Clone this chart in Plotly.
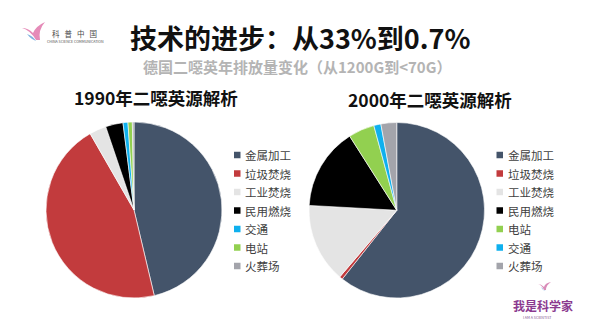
import plotly.graph_objects as go

# ---- data ----
labels_1990 = ["金属加工", "垃圾焚烧", "工业焚烧", "民用燃烧", "交通", "电站", "火葬场"]
values_1990 = [46.3, 45.4, 3.1, 3.2, 0.9, 0.8, 0.3]

labels_2000 = ["金属加工", "垃圾焚烧", "工业焚烧", "民用燃烧", "电站", "交通", "火葬场"]
values_2000 = [60.6, 0.6, 14.6, 15.1, 4.8, 1.3, 2.9]

color_map = {
    "金属加工": "#44546a",
    "垃圾焚烧": "#c23b3d",
    "工业焚烧": "#e4e4e4",
    "民用燃烧": "#000000",
    "交通": "#0fb0ee",
    "电站": "#92d050",
    "火葬场": "#a3a4ab",
}

title_text = "技术的进步：从33%到0.7%"
subtitle_text = "德国二噁英年排放量变化（从1200G到<70G）"
pie_titles = ["1990年二噁英源解析", "2000年二噁英源解析"]

FONT = "Noto Sans CJK SC"
W, H = 600, 335


def px(x):
    return x / W


def py(y):
    return 1 - y / H


fig = go.Figure()

fig.add_trace(go.Pie(
    labels=labels_1990, values=values_1990,
    marker=dict(colors=[color_map[l] for l in labels_1990],
                line=dict(color="white", width=0.6)),
    sort=False, direction="clockwise", rotation=0,
    textinfo="none", hoverinfo="label+percent",
    domain=dict(x=[46 / W, 222 / W], y=[37 / H, 213 / H]),
    showlegend=False,
))

fig.add_trace(go.Pie(
    labels=labels_2000, values=values_2000,
    marker=dict(colors=[color_map[l] for l in labels_2000],
                line=dict(color="white", width=0.6)),
    sort=False, direction="clockwise", rotation=0,
    textinfo="none", hoverinfo="label+percent",
    domain=dict(x=[309 / W, 484.5 / W], y=[37 / H, 212.5 / H]),
    showlegend=False,
))

annotations = [
    dict(text="<b>" + title_text + "</b>", x=px(300), y=py(37),
         font=dict(family=FONT, size=27, color="#111111")),
    dict(text="<b>" + subtitle_text + "</b>", x=px(297), y=py(66),
         font=dict(family=FONT, size=15, color="#b4b4b4")),
    dict(text="<b>" + pie_titles[0] + "</b>", x=px(156), y=py(97),
         font=dict(family=FONT, size=17.5, color="#111111")),
    dict(text="<b>" + pie_titles[1] + "</b>", x=px(430), y=py(100),
         font=dict(family=FONT, size=17.5, color="#111111")),
    # logos
    dict(text="科   普   中   国", x=px(74), y=py(33),
         font=dict(family=FONT, size=7.5, color="#4a4a4a")),
    dict(text="CHINA SCIENCE COMMUNICATION", x=px(75), y=py(41.5),
         font=dict(family=FONT, size=3.6, color="#4a4a4a")),
    dict(text="<b>我是科学家</b>", x=px(542.5), y=py(305),
         font=dict(family=FONT, size=12, color="#8b3a8f")),
    dict(text="I AM A SCIENTIST", x=px(537), y=py(317),
         font=dict(family=FONT, size=3.6, color="#7a4a8a")),
]

shapes = []

# ---- legends (built from the same label / colour data) ----
legend_specs = [
    (labels_1990, 234, 243, 155),
    (labels_2000, 496.5, 506, 155),
]
ROW = 18.5
SQ = 6.5
for labels, sq_x, tx_x, y0 in legend_specs:
    for i, lab in enumerate(labels):
        yc = y0 + i * ROW
        shapes.append(dict(
            type="rect", xref="paper", yref="paper",
            x0=px(sq_x), x1=px(sq_x + SQ), y0=py(yc - SQ / 2), y1=py(yc + SQ / 2),
            fillcolor=color_map[lab], line=dict(width=0),
        ))
        annotations.append(dict(
            text=lab, x=px(tx_x), y=py(yc), xanchor="left",
            font=dict(family=FONT, size=11.5, color="#404040"),
        ))

for a in annotations:
    a.setdefault("xanchor", "center")
    a.update(xref="paper", yref="paper", showarrow=False, yanchor="middle")


def px_path(p):
    res = []
    idx = 0
    for t in p.split():
        try:
            v = float(t)
            res.append(f"{px(v):.5f}" if idx % 2 == 0 else f"{py(v):.5f}")
            idx += 1
        except ValueError:
            res.append(t)
    return " ".join(res)


logo_paths = [
    ("M 22 28 Q 30 30 36 40 L 40 40 Q 38 30 45 22 Q 36 26 33 33 Q 28 28 22 28 Z", "#e58bb8"),
    ("M 27 34 Q 33 36 36 41 L 40 41 Q 33 42 27 34 Z", "#7fb2de"),
    ("M 538 284 Q 542 285 544 290 L 546 290 Q 546 285 551 282 Q 545 283 544 287 Q 541 284 538 284 Z", "#d98bb8"),
    ("M 541 287 Q 543 288 544 291 L 546 291 Q 543 291 541 287 Z", "#8fb8e0"),
]
for p, c in logo_paths:
    shapes.append(dict(type="path", path=px_path(p), xref="paper", yref="paper",
                       fillcolor=c, line=dict(width=0)))

fig.update_layout(
    width=W, height=H,
    margin=dict(l=0, r=0, t=0, b=0),
    paper_bgcolor="white", plot_bgcolor="white",
    font=dict(family=FONT),
    annotations=annotations,
    shapes=shapes,
    showlegend=False,
)

fig.write_html("out.html")
